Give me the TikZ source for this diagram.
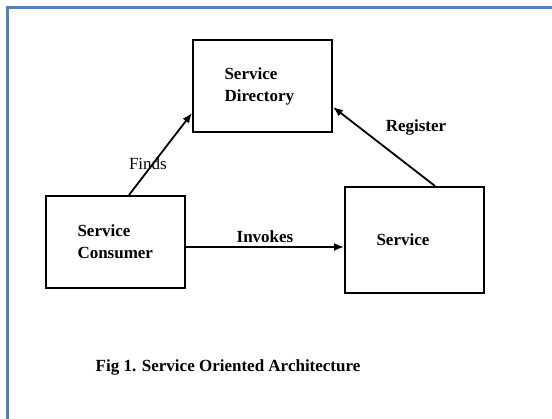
\documentclass[tikz,border=0pt]{standalone}
\usepackage{fontspec}
\setmainfont{Liberation Serif}
\usetikzlibrary{arrows.meta}
\definecolor{frameblue}{RGB}{79,129,189}
\begin{document}
\begin{tikzpicture}[x=1pt,y=1pt,
  box/.style={draw,line width=2pt,minimum width=139pt,text width=76pt,
    align=left,font=\fontsize{17}{22}\selectfont\bfseries},
  link/.style={-{Latex[length=10pt,width=8pt]},line width=1.8pt},
  lbl/.style={font=\fontsize{17}{20}\selectfont}]
\useasboundingbox (0,0) rectangle (552,419);
\draw[frameblue,line width=3pt] (7,0) -- (7,411) -- (552,411);
% the three parts
\node[box,minimum height=92pt] (dir) at (262.5,333) {Service\\Directory};
\node[box,minimum height=92pt] (cons) at (115.5,177) {Service\\Consumer};
\node[box,minimum height=106pt] (srv) at (414.5,179) {Service};
% connections
\draw[link] ([xshift=13.5pt]cons.north) -- ([yshift=20pt]dir.south west)
  node[lbl,pos=0.38,xshift=-5pt] {Finds};
\draw[link] ([xshift=20.5pt]srv.north) -- ([yshift=26pt]dir.south east)
  node[lbl,pos=0.74,anchor=west,xshift=22pt,font=\fontsize{17}{20}\selectfont\bfseries] {Register};
\draw[link] ([yshift=-5pt]cons.east) -- ([yshift=-5pt]cons.east -| srv.west)
  node[lbl,midway,above,font=\fontsize{17}{20}\selectfont\bfseries] {Invokes};
\node[font=\fontsize{17}{20}\selectfont\bfseries] (cap) at (228,52) {Fig 1. Service Oriented Architecture};
\end{tikzpicture}
\end{document}
